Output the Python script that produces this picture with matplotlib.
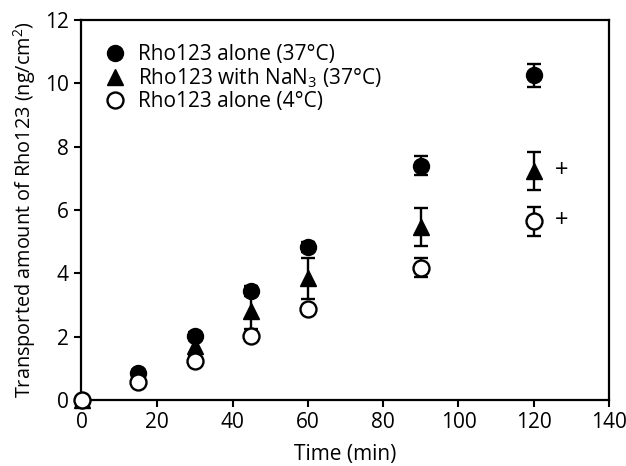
import matplotlib
matplotlib.use("Agg")
import matplotlib.pyplot as plt
import numpy as np

plt.rcParams['font.family'] = ['Open Sans', 'DejaVu Sans']
plt.rcParams['mathtext.default'] = 'regular'

# time points (min)
time = [0, 15, 30, 45, 60, 90, 120]

# Rho123 alone (37C)
alone37 = [0, 0.86, 2.03, 3.45, 4.83, 7.40, 10.25]
alone37_err = [0, 0.1, 0.12, 0.15, 0.15, 0.30, 0.36]

# Rho123 with NaN3 (37C)
nan3 = [0, 0.75, 1.70, 2.80, 3.85, 5.45, 7.22]
nan3_err = [0, 0.1, 0.3, 0.55, 0.65, 0.60, 0.60]

# Rho123 alone (4C)
alone4 = [0, 0.58, 1.23, 2.03, 2.88, 4.17, 5.65]
alone4_err = [0, 0.05, 0.1, 0.12, 0.12, 0.30, 0.46]

# significance marks
sig_x = [127.5, 127.5]
sig_y = [7.22, 5.65]

fig = plt.figure(figsize=(6.26, 4.66), dpi=100)
ax = fig.add_axes([0.129, 0.1416, 0.844, 0.8155])

ekw = dict(ecolor='black', elinewidth=1.7, capsize=5, capthick=1.7, clip_on=False)
ax.errorbar(time, nan3, yerr=nan3_err, fmt='^', color='black', ms=12,
            label='Rho123 with NaN$_3$ (37°C)', zorder=3, **ekw)
ax.errorbar(time, alone37, yerr=alone37_err, fmt='o', color='black', ms=11.5,
            label='Rho123 alone (37°C)', zorder=4, **ekw)
ax.errorbar(time, alone4, yerr=alone4_err, fmt='o', mfc='white', mec='black',
            mew=1.7, color='black', ms=11.5, label='Rho123 alone (4°C)', zorder=5, **ekw)

for x, y in zip(sig_x, sig_y):
    ax.text(x, y, '+', fontsize=17, ha='center', va='center')

ax.set_xlim(-0.3, 140)
ax.set_ylim(0, 12)
ax.set_xticks(np.arange(0, 141, 20))
ax.set_yticks(np.arange(0, 13, 2))
ax.tick_params(axis='both', direction='out', length=5, width=1.5, labelsize=15)
for s in ax.spines.values():
    s.set_linewidth(1.6)

ax.set_xlabel('Time (min)', fontsize=15, labelpad=8)
ax.set_ylabel('Transported amount of Rho123 (ng/cm$^2$)', fontsize=14.3, labelpad=5)

h, l = ax.get_legend_handles_labels()
order = [1, 0, 2]
ax.legend([h[i][0] for i in order], [l[i] for i in order], loc='upper left',
          frameon=False, fontsize=15, handletextpad=0.35, labelspacing=0.05,
          bbox_to_anchor=(0.0, 0.985), handlelength=1.5)

fig.savefig('out.png', dpi=100)
